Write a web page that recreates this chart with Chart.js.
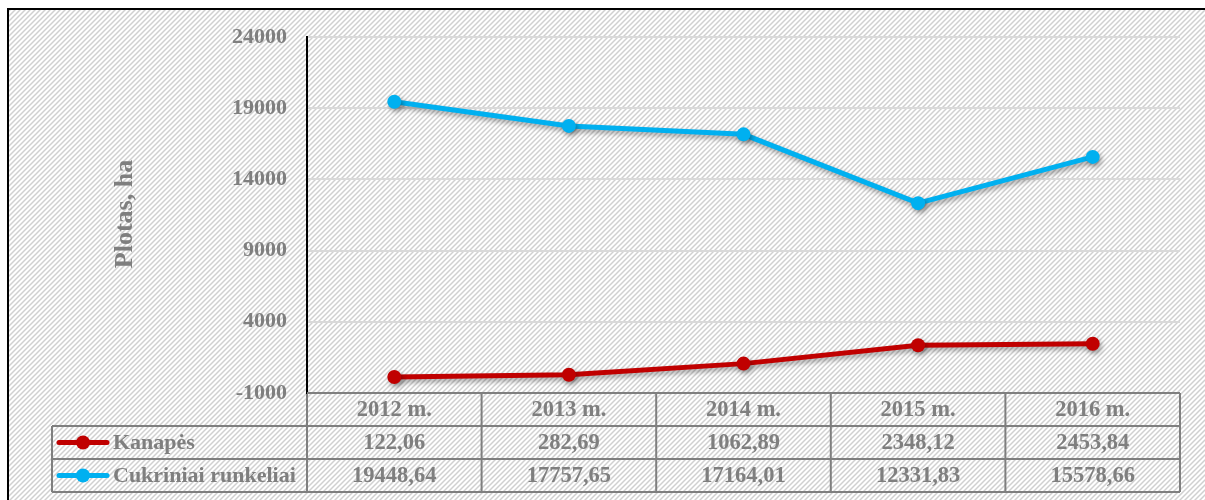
<!DOCTYPE html>
<html>
<head>
<meta charset="utf-8">
<script src="https://cdn.jsdelivr.net/npm/chart.js@4"></script>
<style>
  html, body { margin: 0; padding: 0; background: #fff; }
  #wrap { width: 1205px; height: 500px; }
</style>
</head>
<body>
<div id="wrap"><canvas id="chart" width="1205" height="500"></canvas></div>
<script>
var years = ["2012 m.", "2013 m.", "2014 m.", "2015 m.", "2016 m."];
var kanapes = [122.06, 282.69, 1062.89, 2348.12, 2453.84];
var runkeliai = [19448.64, 17757.65, 17164.01, 12331.83, 15578.66];
var seriesNames = ["Kanapės", "Cukriniai runkeliai"];
var yTicks = [-1000, 4000, 9000, 14000, 19000, 24000];

var GRAY = "#7f7f7f";
var FONT = "'Liberation Serif', 'Times New Roman', serif";

// diagonal hatch used for the whole chart background
function hatch() {
    let c = document.createElement("canvas");
    c.width = 5; c.height = 5;
    let g = c.getContext("2d");
    g.fillStyle = "#fff";
    g.fillRect(0, 0, 5, 5);
    g.strokeStyle = "#d0d0d0";
    g.lineWidth = 1.5;
    g.beginPath();
    g.moveTo(-1, 6); g.lineTo(6, -1);
    g.moveTo(-1, 1); g.lineTo(1, -1);
    g.moveTo(4, 6); g.lineTo(6, 4);
    g.stroke();
    return g.createPattern(c, "repeat");
}

function fmt(v) {
    return v.toFixed(2).replace(".", ",");
}

var bgPlugin = {
    id: "bg",
    beforeDraw(chart) {
        let ctx = chart.ctx;
        ctx.save();
        ctx.fillStyle = "#fff";
        ctx.fillRect(0, 0, chart.width, chart.height);
        ctx.fillStyle = hatch();
        ctx.fillRect(8, 9, chart.width, chart.height);
        ctx.strokeStyle = "#000";
        ctx.lineWidth = 2;
        ctx.beginPath();
        ctx.moveTo(8, chart.height);
        ctx.lineTo(8, 9);
        ctx.lineTo(chart.width, 9);
        ctx.stroke();

        // axis title
        ctx.translate(125, 214);
        ctx.rotate(-Math.PI / 2);
        ctx.fillStyle = GRAY;
        ctx.font = "bold 26px " + FONT;
        ctx.textAlign = "center";
        ctx.textBaseline = "middle";
        ctx.fillText("Plotas, ha", 0, 0);
        ctx.restore();
    }
};

// soft shadow beneath lines and points
var shadowPlugin = {
    id: "shadow",
    beforeDatasetDraw(chart) {
        let ctx = chart.ctx;
        ctx.save();
        ctx.shadowColor = "rgba(0,0,0,0.35)";
        ctx.shadowBlur = 5;
        ctx.shadowOffsetX = 2;
        ctx.shadowOffsetY = 3;
    },
    afterDatasetDraw(chart) {
        chart.ctx.restore();
    }
};

// data table under the plot
var tablePlugin = {
    id: "table",
    afterDraw(chart) {
        let ctx = chart.ctx;
        let area = chart.chartArea;
        let x = chart.scales.x;
        let w = (area.right - area.left) / years.length;
        let rowH = 33;
        let top = area.bottom;
        let legendLeft = 52;
        let rows = [kanapes, runkeliai];
        let colors = [chart.data.datasets[0].borderColor, chart.data.datasets[1].borderColor];

        ctx.save();
        ctx.strokeStyle = GRAY;
        ctx.lineWidth = 2;
        ctx.beginPath();
        for (let r = 0; r <= 3; r++) {
            let y = top + r * rowH;
            ctx.moveTo(r === 0 ? area.left : legendLeft, y);
            ctx.lineTo(area.right, y);
        }
        for (let c = 0; c <= years.length; c++) {
            let cx = area.left + c * w;
            ctx.moveTo(cx, c === 0 ? top + 1 : top);
            ctx.lineTo(cx, top + 3 * rowH);
        }
        ctx.moveTo(legendLeft, top + rowH);
        ctx.lineTo(legendLeft, top + 3 * rowH);
        ctx.stroke();

        ctx.fillStyle = GRAY;
        ctx.font = "bold 22.5px " + FONT;
        ctx.textAlign = "center";
        ctx.textBaseline = "middle";
        years.forEach((yr, i) => {
            let cx = x.getPixelForValue(i);
            ctx.fillText(yr, cx, top + rowH / 2 + 1);
            rows.forEach((vals, r) => {
                ctx.fillText(fmt(vals[i]), cx, top + rowH * (r + 1.5) + 1);
            });
        });

        // legend keys
        ctx.font = "bold 22px " + FONT;
        rows.forEach((vals, r) => {
            let cy = top + rowH * (r + 1.5);
            ctx.strokeStyle = colors[r];
            ctx.lineWidth = 5;
            ctx.lineCap = "round";
            ctx.beginPath();
            ctx.moveTo(59, cy);
            ctx.lineTo(107, cy);
            ctx.stroke();
            ctx.fillStyle = colors[r];
            ctx.beginPath();
            ctx.arc(83, cy, 7, 0, Math.PI * 2);
            ctx.fill();
            ctx.fillStyle = GRAY;
            ctx.textAlign = "left";
            ctx.fillText(seriesNames[r], 113, cy + 1);
        });
        ctx.restore();
    }
};

new Chart(document.getElementById("chart"), {
    type: "line",
    data: {
        labels: years,
        datasets: [
            {
                label: seriesNames[0],
                data: kanapes,
                borderColor: "#c00000",
                backgroundColor: "#c00000",
                borderWidth: 5,
                pointRadius: 7,
                pointHoverRadius: 7,
                pointBorderWidth: 0,
                tension: 0
            },
            {
                label: seriesNames[1],
                data: runkeliai,
                borderColor: "#00b0f0",
                backgroundColor: "#00b0f0",
                borderWidth: 5,
                pointRadius: 7,
                pointHoverRadius: 7,
                pointBorderWidth: 0,
                tension: 0
            }
        ]
    },
    options: {
        responsive: false,
        animation: false,
        layout: { padding: { left: 0, top: 37, right: 25, bottom: 107 } },
        plugins: {
            legend: { display: false },
            tooltip: { enabled: false }
        },
        scales: {
            x: {
                display: false,
                offset: true
            },
            y: {
                min: -1000,
                max: 24000,
                afterBuildTicks(scale) {
                    scale.ticks = yTicks.map(v => ({ value: v }));
                },
                afterFit(scale) {
                    scale.width = 307;
                },
                border: { color: "#000", width: 2 },
                grid: { color: "#d9d9d9", lineWidth: 2, drawTicks: false },
                ticks: {
                    padding: 20,
                    color: GRAY,
                    font: { family: FONT, size: 22, weight: "bold" },
                    callback: (v) => String(v)
                }
            }
        }
    },
    plugins: [bgPlugin, shadowPlugin, tablePlugin]
});
</script>
</body>
</html>
